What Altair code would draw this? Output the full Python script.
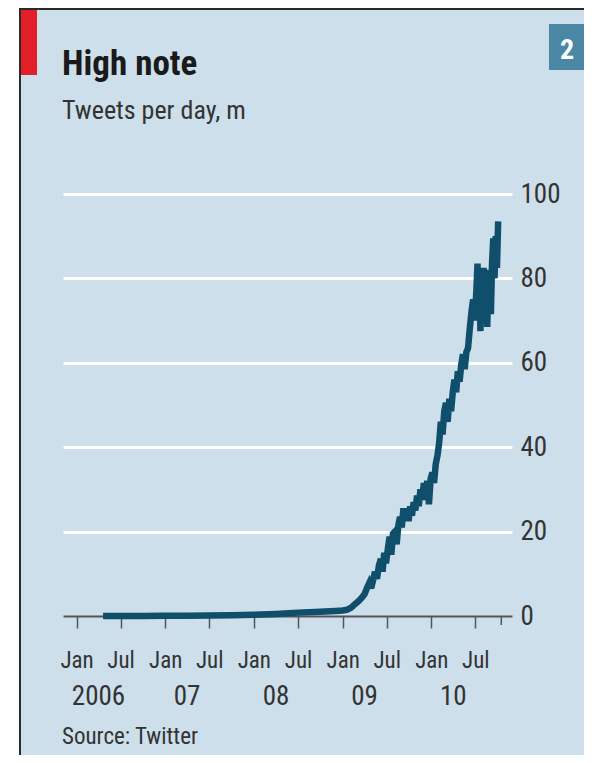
import altair as alt
import pandas as pd

FONT = "Liberation Sans Narrow, Arial Narrow, Roboto Condensed, Roboto, sans-serif"

# ---- data ----
dates = [
    "2006-04-20", "2006-07-01", "2006-10-01", "2007-01-01", "2007-04-01", "2007-07-01",
    "2007-10-01", "2008-01-01", "2008-04-01", "2008-07-01", "2008-10-01", "2008-12-01",
    "2009-01-01", "2009-01-20", "2009-02-05", "2009-02-20", "2009-03-05", "2009-03-20",
    "2009-04-01", "2009-04-12", "2009-04-20", "2009-04-28", "2009-05-06", "2009-05-14",
    "2009-05-22", "2009-05-30", "2009-06-07", "2009-06-14", "2009-06-21", "2009-06-28",
    "2009-07-06", "2009-07-13", "2009-07-20", "2009-07-27", "2009-08-04", "2009-08-11",
    "2009-08-18", "2009-08-25", "2009-09-01", "2009-09-08", "2009-09-15", "2009-09-22",
    "2009-09-29", "2009-10-06", "2009-10-13", "2009-10-20", "2009-10-27", "2009-11-03",
    "2009-11-10", "2009-11-17", "2009-11-24", "2009-12-01", "2009-12-08", "2009-12-15",
    "2009-12-22", "2009-12-29", "2010-01-05", "2010-01-12", "2010-01-19", "2010-01-26",
    "2010-02-02", "2010-02-09", "2010-02-16", "2010-02-23", "2010-03-02", "2010-03-09",
    "2010-03-16", "2010-03-23", "2010-03-30", "2010-04-06", "2010-04-13", "2010-04-20",
    "2010-04-27", "2010-05-04", "2010-05-11", "2010-05-18", "2010-05-25", "2010-06-01",
    "2010-06-08", "2010-06-15", "2010-06-22", "2010-06-29", "2010-07-06", "2010-07-10",
    "2010-07-14", "2010-07-18", "2010-07-22", "2010-07-26", "2010-07-30", "2010-08-04",
    "2010-08-09", "2010-08-14", "2010-08-19", "2010-08-24", "2010-08-29", "2010-09-03",
    "2010-09-08", "2010-09-13", "2010-09-18", "2010-09-23", "2010-09-28", "2010-10-03",
]
tweets = [
    0.0, 0.0, 0.0, 0.05, 0.08, 0.12,
    0.2, 0.3, 0.5, 0.8, 1.0, 1.2,
    1.3, 1.5, 2.0, 2.8, 3.4, 4.3,
    5.2, 6.8, 7.8, 6.6, 8.5, 10.5,
    8.8, 12.0, 13.5, 10.5, 15.0, 12.5,
    16.0, 18.8, 14.5, 19.5, 20.0, 17.0,
    21.5, 23.5, 21.0, 25.5, 22.5, 25.5,
    22.5, 26.0, 23.8, 27.0, 25.0, 28.5,
    26.0, 30.0, 27.5, 31.5, 28.5, 32.0,
    26.5, 32.5, 34.0, 31.5, 36.0, 38.0,
    41.0, 46.0, 43.0, 48.5, 50.5, 46.0,
    51.5, 48.5, 53.0, 56.0, 53.0, 58.0,
    55.5, 59.5, 62.0, 58.5, 62.5, 63.5,
    68.0, 72.0, 75.0, 70.0, 78.0, 83.5,
    72.0, 82.0, 67.5, 80.0, 70.0, 82.5,
    76.0, 81.5, 68.5, 80.0, 82.0, 71.5,
    84.0, 89.5, 80.0, 90.0, 82.5, 93.5,
]

year_labels = ["2006", "07", "08", "09", "10"]
year_label_dates = ["2006-04-01", "2007-04-01", "2008-04-01", "2009-04-01", "2010-04-01"]
y_ticks = [0, 20, 40, 60, 80, 100]
x_tick_years = [2006, 2007, 2008, 2009, 2010]
end_marker_date = ["2010-10-16"]

title = "High note"
subtitle = "Tweets per day, m"
source = "Source: Twitter"
badge = "2"

# ---- colours ----
BG = "#cddfea"
LINE = "#0f4f6c"
AXIS = "#555555"
TEXT = "#333333"

W, H = 449, 422
PAD = {"left": 55, "top": 186, "right": 72, "bottom": 139}

df = pd.DataFrame({"date": dates, "tweets": tweets})
years_df = pd.DataFrame({"date": year_label_dates, "label": year_labels})
end_df = pd.DataFrame({"date": end_marker_date})
one = pd.DataFrame({"k": [0]})

x_values = []
for yr in x_tick_years:
    x_values.append(alt.DateTime(year=yr, month=1, date=1, utc=True))
    x_values.append(alt.DateTime(year=yr, month=7, date=1, utc=True))

x_scale = alt.Scale(type="utc", domain=[alt.DateTime(year=2005, month=11, date=6, utc=True),
                                         alt.DateTime(year=2010, month=11, date=29, utc=True)])

x_enc = alt.X("date:T", scale=x_scale,
              axis=alt.Axis(values=x_values, title=None, grid=False,
                            labelExpr="utcmonth(datum.value) == 0 ? 'Jan' : 'Jul'",
                            tickSize=12, tickColor=AXIS, tickWidth=1.5,
                            domainColor=AXIS, domainWidth=2,
                            labelFont=FONT, labelFontSize=23, labelColor=TEXT,
                            labelBaseline="alphabetic", labelPadding=39,
                            labelAlign="center", labelFlush=False))

y_enc = alt.Y("tweets:Q", scale=alt.Scale(domain=[0, 100], nice=False),
              axis=alt.Axis(orient="right", values=y_ticks, title=None,
                            grid=True, gridWidth=3,
                            gridColor=alt.condition("datum.value === 0",
                                                    alt.value("transparent"),
                                                    alt.value("white")),
                            ticks=False, domain=False, labelPadding=8,
                            labelFont=FONT, labelFontSize=27, labelColor=TEXT))

line = alt.Chart(df).mark_line(color=LINE, strokeWidth=6.5, strokeJoin="miter",
                               strokeMiterLimit=3).encode(x=x_enc, y=y_enc)

end_tick = alt.Chart(end_df).mark_rule(color=AXIS, strokeWidth=1.5).encode(
    x=alt.X("date:T", scale=x_scale), y=alt.value(H), y2=alt.value(H + 9))

years = alt.Chart(years_df).mark_text(font=FONT, fontSize=27, color=TEXT,
                                      baseline="alphabetic", align="center").encode(
    x=alt.X("date:T", scale=x_scale), y=alt.value(511), text="label:N")

def txt(s, x, y, size, weight="normal", color=TEXT, align="left"):
    return alt.Chart(one).mark_text(font=FONT, fontSize=size, fontWeight=weight,
                                    color=color, align=align,
                                    baseline="alphabetic").encode(
        x=alt.value(x), y=alt.value(y), text=alt.value(s))

def box(x, x2, y, y2, color):
    return alt.Chart(one).mark_rect(color=color).encode(
        x=alt.value(x), x2=alt.value(x2), y=alt.value(y), y2=alt.value(y2))

L = PAD["left"]
T = PAD["top"]

deco = [
    box(-L, -L + 11, -T, H + PAD["bottom"], "white"),          # white margin strip
    box(-L + 11, -L + 13, -T, H + PAD["bottom"], "#2b2b2b"),    # left border
    box(-L + 11, W + PAD["right"], -T, -T + 2, "#2b2b2b"),     # top border
    box(-L + 13, -L + 29, -T + 2, 67 - T, "#e3202a"),          # red tag
    box(541 - L, 577 - L, 16 - T, 62 - T, "#4a87a5"),          # badge
    txt(badge, 559 - L, 51 - T, 28, "bold", "white", "center"),
    txt(title, 54 - L, 67 - T, 35, "bold", "#1a1a1a"),
    txt(subtitle, 54 - L, 111 - T, 26, "normal", TEXT),
    txt(source, 54 - L, 736 - T, 23, "normal", TEXT),
]

chart = alt.layer(*deco, line, end_tick, years).properties(
    width=W, height=H,
    autosize=alt.AutoSizeParams(type="none"),
    padding=PAD,
    background=BG,
).configure_view(stroke=None)

chart.save("out.html", embed_options={"renderer": "svg", "actions": False})
